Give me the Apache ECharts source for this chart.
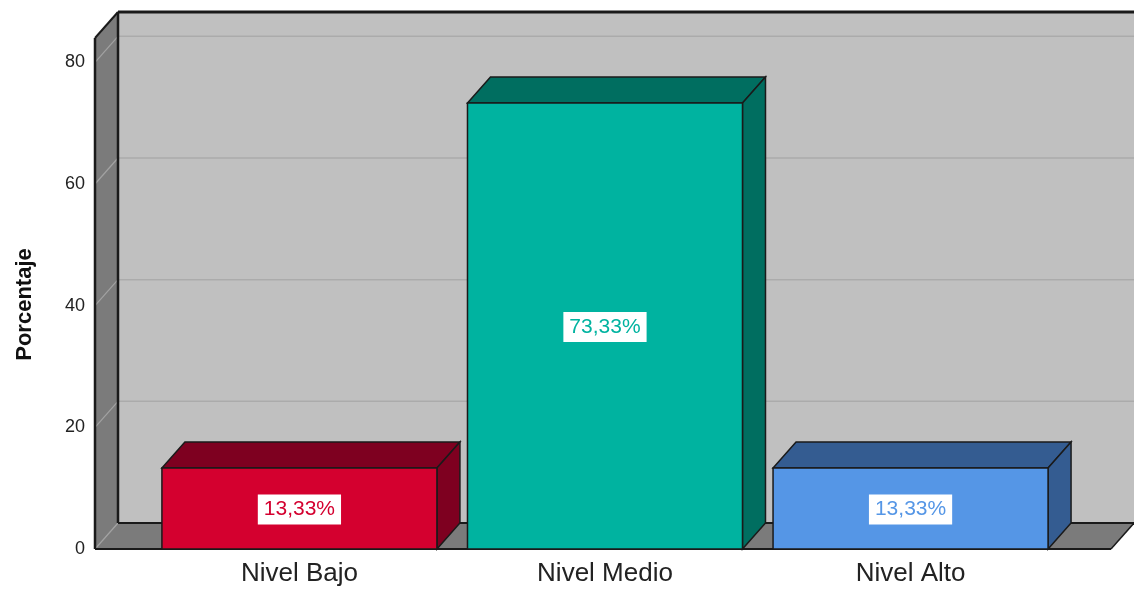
<!DOCTYPE html>
<html>
<head>
<meta charset="utf-8">
<script src="https://cdn.jsdelivr.net/npm/echarts@6/dist/echarts.min.js"></script>
<style>
  html, body { margin: 0; padding: 0; background: #fff; }
  #chart { width: 1134px; height: 589px; }
</style>
</head>
<body>
<div id="chart"></div>
<script>
// Distribution by level (percent of respondents)
const categories = ['Nivel Bajo', 'Nivel Medio', 'Nivel Alto'];
const percentages = [13.33, 73.33, 13.33];
const yTickValues = [0, 20, 40, 60, 80];

// Face colours for each bar: front, top, right side
const frontColors = ['#D4002F', '#00B3A0', '#5596E6'];
const shadeColors = ['#7E0020', '#006E60', '#345C91'];

// Oblique projection offset used for the pseudo-3D depth
const DX = 23, DY = -26;
const EDGE = '#1a1a1a';

const fmtPct = v => v.toFixed(2).replace('.', ',') + '%';

const chart = echarts.init(document.getElementById('chart'));

function poly(points, fill, stroke, lw) {
  return { type: 'polygon', shape: { points }, style: { fill, stroke: stroke || null, lineWidth: lw || 0 } };
}
function seg(x1, y1, x2, y2, stroke, lw) {
  return { type: 'line', shape: { x1, y1, x2, y2 }, style: { stroke, lineWidth: lw } };
}

// Back wall, side wall, floor and their grid lines
function renderWalls(params, api) {
  const cs = params.coordSys;
  const left = cs.x, right = cs.x + cs.width, top = cs.y;
  const base = api.coord([0, 0])[1];
  const kids = [];
  // back wall
  kids.push(poly([[left + DX, top + DY], [right + DX, top + DY], [right + DX, base + DY], [left + DX, base + DY]], '#C0C0C0'));
  // side wall
  kids.push(poly([[left, top], [left + DX, top + DY], [left + DX, base + DY], [left, base]], '#7B7B7B'));
  // floor
  kids.push(poly([[left, base], [left + DX, base + DY], [right + DX, base + DY], [right, base]], '#7B7B7B'));
  // grid lines
  yTickValues.forEach(v => {
    const y = api.coord([0, v])[1];
    if (v > 0) kids.push(seg(left + DX, y + DY, right + DX, y + DY, '#ABABAB', 1.5));
    kids.push(seg(left, y, left + DX, y + DY, '#A2A2A2', 1.2));
  });
  // edges
  kids.push(seg(left + DX, top + DY, right + DX, top + DY, EDGE, 3));
  kids.push(seg(left + DX, top + DY, left + DX, base + DY, EDGE, 2.5));
  kids.push(seg(left, top, left, base, EDGE, 2.5));
  kids.push(seg(left, top, left + DX, top + DY, EDGE, 2));
  kids.push(seg(left + DX, base + DY, right + DX, base + DY, EDGE, 2));
  kids.push(seg(left, base, right, base, EDGE, 2));
  kids.push(seg(right, base, right + DX, base + DY, EDGE, 1.5));
  return { type: 'group', children: kids };
}

// One box-shaped bar with its value label
function renderBar(params, api) {
  const i = api.value(0);
  const v = api.value(1);
  const half = 0.45;
  const p0 = api.coord([i - half, 0]);
  const p1 = api.coord([i + half, v]);
  const x0 = p0[0], yb = p0[1], x1 = p1[0], yt = p1[1];
  const idx = params.dataIndex;
  const kids = [];
  kids.push(poly([[x0, yt], [x1, yt], [x1 + DX, yt + DY], [x0 + DX, yt + DY]], shadeColors[idx], EDGE, 1.5));
  kids.push(poly([[x1, yt], [x1 + DX, yt + DY], [x1 + DX, yb + DY], [x1, yb]], shadeColors[idx], EDGE, 1.5));
  kids.push(poly([[x0, yt], [x1, yt], [x1, yb], [x0, yb]], frontColors[idx], EDGE, 1.5));
  kids.push({
    type: 'text',
    x: (x0 + x1) / 2,
    y: (yt + yb) / 2 + 1,
    style: {
      text: fmtPct(v),
      fill: frontColors[idx],
      font: '21px "Liberation Sans", Arial, sans-serif',
      align: 'center',
      verticalAlign: 'middle',
      backgroundColor: '#ffffff',
      padding: [5, 6, 4, 6]
    }
  });
  return { type: 'group', children: kids };
}

chart.setOption({
  animation: false,
  backgroundColor: '#ffffff',
  grid: { left: 95, right: 23, top: 38, bottom: 40 },
  xAxis: {
    type: 'value',
    min: -0.669,
    max: 2.656,
    splitLine: { show: false },
    axisLine: { show: false },
    axisTick: { show: false },
    axisLabel: {
      customValues: categories.map((c, i) => i),
      formatter: v => categories[Math.round(v)] || '',
      fontFamily: '"Liberation Sans", Arial, sans-serif',
      fontSize: 26,
      color: '#222',
      margin: 12
    }
  },
  yAxis: {
    type: 'value',
    min: 0,
    max: 84,
    interval: 20,
    name: 'Porcentaje',
    nameLocation: 'middle',
    nameGap: 59,
    nameTextStyle: {
      fontFamily: '"Liberation Sans", Arial, sans-serif',
      fontSize: 22,
      fontWeight: 'bold',
      color: '#111',
      padding: [0, 22, 0, 0]
    },
    splitLine: { show: false },
    axisLine: { show: false },
    axisTick: { show: false },
    axisLabel: {
      showMaxLabel: false,
      fontFamily: '"Liberation Sans", Arial, sans-serif',
      fontSize: 18,
      color: '#222',
      margin: 10
    }
  },
  series: [
    {
      type: 'custom',
      renderItem: renderWalls,
      data: [[0, 0]],
      z: 1,
      silent: true
    },
    {
      type: 'custom',
      renderItem: renderBar,
      data: percentages.map((v, i) => [i, v]),
      encode: { x: 0, y: 1 },
      z: 2
    }
  ]
});
</script>
</body>
</html>
